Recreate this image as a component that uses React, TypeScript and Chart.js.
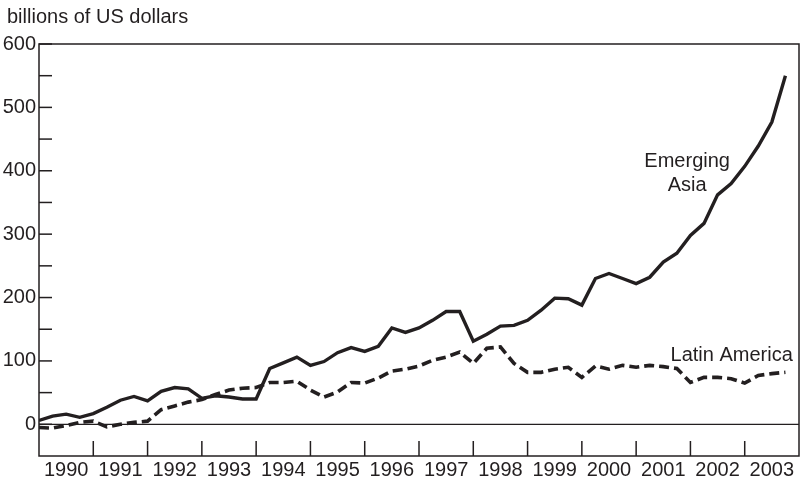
import React, { useEffect, useRef } from "react";
import { Chart, registerables } from "chart.js";

Chart.register(...registerables);

const years = [1990, 1991, 1992, 1993, 1994, 1995, 1996, 1997, 1998, 1999, 2000, 2001, 2002, 2003];
const quarterLabels = years.flatMap((y) => ["Q1", "Q2", "Q3", "Q4"].map((q) => `${y}${q}`));

const emergingAsia = [
  6, 13, 16, 11, 17, 27, 38, 44, 37, 52, 58, 56, 41, 45, 43, 40,
  40, 88, 97, 106, 93, 99, 113, 121, 115, 123, 152, 145, 152, 164, 178, 178,
  131, 142, 155, 156, 164, 180, 199, 198, 188, 230, 238, 230, 222, 232, 256, 270,
  298, 317, 362, 380, 407, 439, 477, 550,
];

const latinAmerica = [
  -5, -6, -2, 3, 5, -4, 0, 3, 5, 23, 29, 35, 39, 47, 54, 57,
  58, 66, 66, 68, 54, 43, 51, 66, 65, 73, 84, 87, 92, 101, 106, 114,
  96, 120, 122, 96, 82, 82, 87, 90, 74, 92, 87, 93, 90, 93, 91, 88,
  66, 74, 74, 72, 65, 77, 80, 82,
];

const yTickLabels = [0, 100, 200, 300, 400, 500, 600];
const yMinorTicks = [0, 50, 100, 150, 200, 250, 300, 350, 400, 450, 500, 550, 600];
const unitsLabel = "billions of US dollars";
const seriesNames = ["Emerging Asia", "Latin America"];

const INK = "#231f20";
const FAMILY = '"Liberation Sans", Arial, sans-serif';
const FONT = `20px ${FAMILY}`;

function quarterToX(label: string): number {
  const y = Number(label.slice(0, 4));
  const q = Number(label.slice(5));
  return y + (q - 1) / 4;
}

const decorPlugin = {
  id: "decor",
  beforeDatasetsDraw(chart: any) {
    const { ctx, chartArea: a, scales } = chart;
    const xs = scales.x;
    const ys = scales.y;
    const line = (x1: number, y1: number, x2: number, y2: number) => {
      ctx.beginPath();
      ctx.moveTo(x1, y1);
      ctx.lineTo(x2, y2);
      ctx.stroke();
    };
    ctx.save();
    ctx.strokeStyle = INK;
    ctx.lineWidth = 1.5;
    ctx.strokeRect(a.left, a.top, a.right - a.left, a.bottom - a.top);
    ctx.lineWidth = 1.2;
    const y0 = ys.getPixelForValue(0);
    line(a.left, y0, a.right, y0);
    ctx.lineWidth = 1.5;
    yMinorTicks.forEach((v) => {
      const py = ys.getPixelForValue(v);
      line(a.left, py, a.left + 13, py);
    });
    years.slice(1).forEach((yr) => {
      const px = xs.getPixelForValue(yr);
      line(px, a.bottom, px, a.bottom - 15);
    });
    ctx.restore();
  },
  afterDraw(chart: any) {
    const { ctx, scales } = chart;
    const xs = scales.x;
    const ys = scales.y;
    ctx.save();
    ctx.fillStyle = INK;
    ctx.font = FONT;
    ctx.textBaseline = "middle";
    ctx.textAlign = "left";
    ctx.fillText(unitsLabel, 7, 17);
    ctx.textAlign = "center";
    const ex = xs.getPixelForValue(2001.94);
    ctx.fillText("Emerging", ex, ys.getPixelForValue(414));
    ctx.fillText("Asia", ex, ys.getPixelForValue(377));
    ctx.fillText(seriesNames[1], xs.getPixelForValue(2002.76), ys.getPixelForValue(109));
    ctx.restore();
  },
};

export default function App() {
  const ref = useRef<HTMLCanvasElement | null>(null);

  useEffect(() => {
    if (!ref.current) return;
    const chart = new Chart(ref.current, {
      type: "line",
      data: {
        datasets: [
          {
            label: seriesNames[0],
            data: quarterLabels.map((q, i) => ({ x: quarterToX(q), y: emergingAsia[i] })),
            borderColor: INK,
            borderWidth: 3.4,
            pointRadius: 0,
            tension: 0,
            fill: false,
            borderJoinStyle: "miter",
          },
          {
            label: seriesNames[1],
            data: quarterLabels.map((q, i) => ({ x: quarterToX(q), y: latinAmerica[i] })),
            borderColor: INK,
            borderWidth: 3.6,
            borderDash: [10, 5],
            pointRadius: 0,
            tension: 0,
            fill: false,
          },
        ],
      },
      options: {
        responsive: false,
        animation: false,
        layout: { padding: { top: 44, right: 3, left: 0, bottom: 0 } },
        plugins: {
          legend: { display: false },
          tooltip: { enabled: false },
          title: { display: false },
        },
        scales: {
          x: {
            type: "linear",
            min: 1990,
            max: 2004,
            grid: { display: false, drawTicks: false },
            border: { display: false },
            afterBuildTicks: (scale: any) => {
              scale.ticks = years.map((y) => ({ value: y + 0.5 }));
            },
            afterFit: (scale: any) => {
              scale.height = 22;
            },
            ticks: {
              autoSkip: false,
              maxRotation: 0,
              padding: 2,
              color: INK,
              font: { family: FAMILY, size: 20 },
              callback: (v: any) => String(Math.floor(Number(v))),
            },
          },
          y: {
            type: "linear",
            min: -50,
            max: 600,
            grid: { display: false, drawTicks: false },
            border: { display: false },
            afterBuildTicks: (scale: any) => {
              scale.ticks = yTickLabels.map((v) => ({ value: v }));
            },
            afterFit: (scale: any) => {
              scale.width = 39;
            },
            ticks: {
              padding: 3,
              color: INK,
              font: { family: FAMILY, size: 20 },
              callback: (v: any) => String(v),
            },
          },
        },
      },
      plugins: [decorPlugin],
    });
    return () => chart.destroy();
  }, []);

  return (
    <div style={{ position: "fixed", left: 0, top: 0, width: 802, height: 478, background: "#fff" }}>
      <canvas ref={ref} width={802} height={478} style={{ display: "block" }} />
    </div>
  );
}
